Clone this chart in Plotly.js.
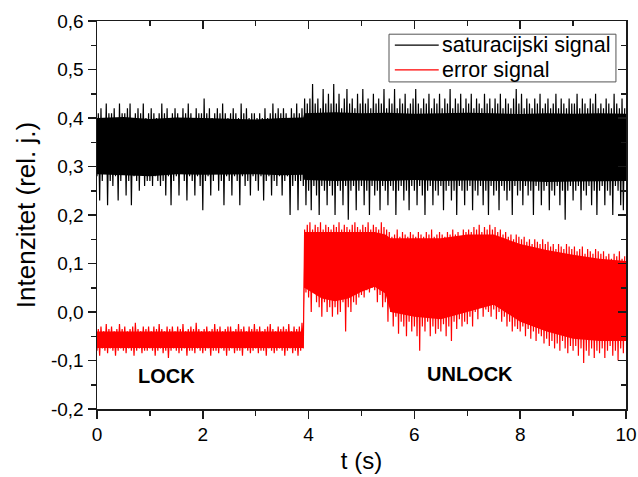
<!DOCTYPE html>
<html>
<head>
<meta charset="utf-8">
<script src="https://cdn.plot.ly/plotly-3.0.1.min.js"></script>
<style>html,body{margin:0;padding:0;background:#fff}#chart{width:638px;height:477px}</style>
</head>
<body>
<div id="chart"></div>
<script>
// Sampling grid of the recorded traces (seconds)
const sampleStart = 0;
const sampleStep = 0.05;

// Saturation signal: lower / upper excursions in each 0.05 s slot
const satLow = [
  0.28,0.23,0.27,0.29,0.22,0.27,0.26,0.28,0.23,0.27,
  0.29,0.24,0.27,0.22,0.28,0.27,0.25,0.29,0.26,0.27,
  0.27,0.26,0.28,0.27,0.26,0.27,0.24,0.28,0.22,0.27,
  0.28,0.24,0.29,0.27,0.23,0.28,0.27,0.24,0.28,0.26,
  0.21,0.27,0.28,0.24,0.27,0.29,0.25,0.27,0.22,0.28,
  0.27,0.24,0.28,0.27,0.22,0.28,0.26,0.27,0.24,0.28,
  0.27,0.25,0.28,0.23,0.27,0.28,0.24,0.27,0.26,0.28,
  0.24,0.27,0.28,0.20,0.26,0.27,0.21,0.27,0.26,0.22,
  0.25,0.21,0.26,0.24,0.20,0.26,0.25,0.22,0.26,0.24,
  0.20,0.26,0.25,0.22,0.26,0.19,0.25,0.26,0.21,0.25,
  0.26,0.22,0.25,0.20,0.26,0.24,0.25,0.21,0.26,0.25,
  0.22,0.26,0.25,0.20,0.25,0.26,0.23,0.25,0.21,0.26,
  0.25,0.22,0.26,0.24,0.20,0.25,0.26,0.22,0.25,0.24,
  0.26,0.21,0.25,0.26,0.23,0.25,0.20,0.26,0.25,0.22,
  0.25,0.26,0.21,0.25,0.24,0.26,0.22,0.25,0.20,0.26,
  0.24,0.25,0.21,0.26,0.25,0.23,0.25,0.20,0.26,0.24,
  0.25,0.22,0.26,0.24,0.25,0.20,0.26,0.25,0.22,0.25,
  0.26,0.21,0.25,0.24,0.26,0.22,0.25,0.19,0.25,0.26,
  0.23,0.25,0.26,0.21,0.25,0.24,0.26,0.22,0.25,0.20,
  0.25,0.26,0.22,0.25,0.24,0.20,0.26,0.25,0.22,0.21
];
const satHigh = [
  0.41,0.42,0.40,0.43,0.41,0.41,0.42,0.40,0.43,0.41,
  0.41,0.42,0.43,0.40,0.41,0.42,0.41,0.43,0.40,0.41,
  0.42,0.41,0.40,0.41,0.43,0.41,0.42,0.40,0.41,0.42,
  0.41,0.40,0.42,0.41,0.43,0.41,0.40,0.42,0.41,0.41,
  0.44,0.41,0.42,0.40,0.41,0.42,0.41,0.43,0.41,0.40,
  0.41,0.42,0.41,0.40,0.43,0.41,0.42,0.40,0.41,0.41,
  0.40,0.41,0.40,0.42,0.40,0.41,0.43,0.41,0.42,0.41,
  0.42,0.41,0.40,0.42,0.41,0.43,0.41,0.42,0.44,0.43,
  0.44,0.47,0.43,0.44,0.42,0.46,0.43,0.45,0.43,0.47,
  0.43,0.45,0.42,0.44,0.46,0.43,0.44,0.42,0.45,0.43,
  0.46,0.43,0.44,0.42,0.45,0.43,0.44,0.43,0.46,0.42,
  0.44,0.43,0.46,0.42,0.44,0.43,0.45,0.42,0.43,0.44,
  0.46,0.43,0.42,0.44,0.43,0.45,0.42,0.44,0.43,0.45,
  0.42,0.44,0.43,0.46,0.42,0.44,0.43,0.45,0.42,0.44,
  0.43,0.45,0.42,0.44,0.43,0.42,0.45,0.43,0.44,0.42,
  0.44,0.43,0.45,0.42,0.44,0.43,0.42,0.44,0.46,0.43,
  0.45,0.42,0.44,0.43,0.42,0.44,0.43,0.45,0.42,0.43,
  0.44,0.42,0.43,0.45,0.42,0.44,0.43,0.42,0.44,0.43,
  0.43,0.45,0.42,0.44,0.43,0.42,0.44,0.43,0.45,0.42,
  0.43,0.42,0.44,0.43,0.42,0.45,0.43,0.42,0.44,0.42
];

// Error signal: lower / upper excursions in each 0.05 s slot
const errLow = [
  -0.08,-0.09,-0.075,-0.08,-0.085,-0.075,-0.08,-0.09,-0.08,-0.075,
  -0.08,-0.085,-0.075,-0.08,-0.09,-0.08,-0.075,-0.085,-0.08,-0.08,
  -0.075,-0.08,-0.09,-0.08,-0.075,-0.085,-0.08,-0.095,-0.08,-0.075,
  -0.08,-0.085,-0.08,-0.075,-0.09,-0.08,-0.08,-0.085,-0.075,-0.08,
  -0.085,-0.08,-0.075,-0.09,-0.08,-0.08,-0.085,-0.075,-0.08,-0.09,
  -0.08,-0.075,-0.085,-0.08,-0.08,-0.09,-0.075,-0.08,-0.085,-0.08,
  -0.075,-0.085,-0.08,-0.08,-0.09,-0.075,-0.08,-0.085,-0.08,-0.075,
  -0.08,-0.09,-0.08,-0.075,-0.085,-0.08,-0.09,-0.08,-0.075,0.04,
  0.03,0.0,0.05,0.02,0.01,-0.01,0.02,0.0,0.01,-0.01,
  0.01,-0.005,0.0,0.02,-0.04,0.01,0.0,0.02,0.015,0.03,
  0.035,0.03,0.045,0.04,0.05,0.045,0.02,0.035,0.01,0.02,
  -0.02,0.0,-0.03,-0.01,-0.045,-0.02,-0.03,-0.05,-0.02,-0.04,
  -0.03,-0.05,-0.08,-0.03,-0.04,-0.02,-0.05,-0.03,-0.045,-0.035,
  -0.04,-0.025,-0.05,-0.03,-0.06,-0.02,-0.035,-0.015,-0.03,-0.02,
  -0.025,-0.01,-0.03,0.0,-0.015,0.01,-0.01,0.005,0.0,-0.01,
  0.005,-0.015,0.0,-0.02,-0.01,-0.03,-0.02,-0.04,-0.03,-0.035,
  -0.04,-0.03,-0.05,-0.035,-0.055,-0.04,-0.06,-0.045,-0.05,-0.065,
  -0.055,-0.07,-0.06,-0.075,-0.065,-0.08,-0.06,-0.075,-0.085,-0.07,
  -0.08,-0.07,-0.09,-0.075,-0.105,-0.08,-0.09,-0.075,-0.095,-0.08,
  -0.085,-0.075,-0.095,-0.08,-0.07,-0.09,-0.08,-0.1,-0.075,-0.085
];
const errHigh = [
  -0.035,-0.03,-0.04,-0.025,-0.035,-0.03,-0.04,-0.035,-0.025,-0.035,
  -0.03,-0.04,-0.035,-0.03,-0.022,-0.035,-0.04,-0.03,-0.035,-0.03,
  -0.04,-0.03,-0.035,-0.025,-0.035,-0.04,-0.03,-0.035,-0.03,-0.04,
  -0.03,-0.035,-0.025,-0.04,-0.035,-0.03,-0.035,-0.022,-0.035,-0.04,
  -0.035,-0.03,-0.04,-0.035,-0.025,-0.035,-0.03,-0.04,-0.035,-0.03,
  -0.03,-0.04,-0.035,-0.025,-0.035,-0.03,-0.04,-0.03,-0.035,-0.025,
  -0.035,-0.03,-0.04,-0.035,-0.03,-0.025,-0.035,-0.04,-0.03,-0.035,
  -0.03,-0.035,-0.025,-0.04,-0.03,-0.035,-0.03,-0.022,0.17,0.18,
  0.185,0.17,0.18,0.175,0.185,0.17,0.18,0.175,0.17,0.18,
  0.175,0.185,0.17,0.18,0.175,0.17,0.18,0.185,0.175,0.17,
  0.18,0.175,0.185,0.17,0.18,0.175,0.17,0.185,0.175,0.17,
  0.165,0.155,0.16,0.17,0.155,0.165,0.16,0.155,0.165,0.16,
  0.155,0.165,0.16,0.155,0.165,0.16,0.17,0.155,0.16,0.165,
  0.16,0.155,0.165,0.16,0.17,0.16,0.165,0.155,0.17,0.165,
  0.17,0.165,0.175,0.17,0.18,0.165,0.175,0.17,0.18,0.17,
  0.175,0.165,0.17,0.16,0.165,0.155,0.16,0.15,0.16,0.155,
  0.15,0.155,0.145,0.15,0.14,0.15,0.145,0.14,0.15,0.14,
  0.145,0.135,0.14,0.13,0.14,0.135,0.13,0.14,0.135,0.13,
  0.135,0.125,0.13,0.135,0.12,0.13,0.125,0.12,0.13,0.125,
  0.12,0.125,0.115,0.12,0.11,0.12,0.115,0.125,0.11,0.115
];

// Dense (solid-looking) core of each noisy band
const satCoreT      = [0, 0.5, 1, 1.5, 2, 2.5, 3, 3.5, 3.9, 3.92, 4.5, 5, 5.5, 6, 6.5, 7, 7.5, 8, 8.5, 9, 9.5, 10];
const satCoreTop    = [0.400, 0.402, 0.398, 0.401, 0.400, 0.399, 0.397, 0.400, 0.401, 0.410, 0.412, 0.410, 0.411, 0.409, 0.410, 0.411, 0.410, 0.408, 0.410, 0.409, 0.410, 0.409];
const satCoreBottom = [0.284, 0.282, 0.280, 0.284, 0.283, 0.283, 0.284, 0.282, 0.283, 0.272, 0.270, 0.271, 0.270, 0.272, 0.270, 0.271, 0.270, 0.270, 0.268, 0.269, 0.270, 0.270];

const errCoreT      = [0, 3.9, 3.92, 4.25, 4.5, 4.75, 5.0, 5.25, 5.45, 5.55, 6.0, 6.5, 7.0, 7.5, 8.0, 8.5, 9.0, 9.5, 10];
const errCoreTop    = [-0.04, -0.04, 0.165, 0.165, 0.165, 0.165, 0.165, 0.165, 0.16, 0.152, 0.152, 0.152, 0.16, 0.16, 0.14, 0.128, 0.118, 0.11, 0.105];
const errCoreBottom = [-0.074, -0.074, 0.05, 0.028, 0.022, 0.028, 0.042, 0.052, 0.038, 0.0, -0.01, -0.015, 0.0, 0.015, -0.02, -0.04, -0.055, -0.06, -0.06];

// Tick labels
const xTickVals = [0, 2, 4, 6, 8, 10];
const xTickText = ['0', '2', '4', '6', '8', '10'];
const yTickVals = [-0.2, -0.1, 0.0, 0.1, 0.2, 0.3, 0.4, 0.5, 0.6];
const yTickText = ['-0,2', '-0,1', '0,0', '0,1', '0,2', '0,3', '0,4', '0,5', '0,6'];

const seriesNames = ['saturacijski signal', 'error signal'];
const seriesColors = ['#000000', '#ff0000'];
const labelLock = 'LOCK';
const labelUnlock = 'UNLOCK';

// interleave lower/upper excursions in time order
function interleave(low, high) {
  const x = [], y = [];
  for (let i = 0; i < low.length; i++) {
    const t = sampleStart + i * sampleStep;
    x.push(t); y.push(low[i]);
    x.push(t + sampleStep / 2); y.push(high[i]);
  }
  return {x, y};
}
function band(t, top, bottom) {
  return {x: t.concat(t.slice().reverse()), y: top.concat(bottom.slice().reverse())};
}

const sat = interleave(satLow, satHigh);
const err = interleave(errLow, errHigh);
const satBand = band(satCoreT, satCoreTop, satCoreBottom);
const errBand = band(errCoreT, errCoreTop, errCoreBottom);

const FONT = 'Liberation Sans, Arial, sans-serif';
const AX = '#1a1a1a';
const LW = 1.2;

const traces = [
  {x: satBand.x, y: satBand.y, type: 'scatter', mode: 'lines', fill: 'toself',
   fillcolor: seriesColors[0], line: {width: 0, color: seriesColors[0]}, showlegend: false, hoverinfo: 'skip'},
  {x: sat.x, y: sat.y, name: seriesNames[0], type: 'scatter', mode: 'lines',
   line: {color: seriesColors[0], width: LW, simplify: false}},
  {x: errBand.x, y: errBand.y, type: 'scatter', mode: 'lines', fill: 'toself',
   fillcolor: seriesColors[1], line: {width: 0, color: seriesColors[1]}, showlegend: false, hoverinfo: 'skip'},
  {x: err.x, y: err.y, name: seriesNames[1], type: 'scatter', mode: 'lines',
   line: {color: seriesColors[1], width: LW, simplify: false}},
  // invisible helper so the mirrored tick axes are drawn
  {x: [0], y: [0], xaxis: 'x2', yaxis: 'y2', mode: 'markers', marker: {opacity: 0},
   showlegend: false, hoverinfo: 'skip'}
];

// legend drawn as a box with sample lines and labels (paper coordinates)
const legBox = {x0: 0.552, x1: 0.981, y0: 0.843, y1: 0.966};
const legRows = [0.938, 0.874];
const legLineX = [0.563, 0.646];
const legTextX = 0.648;

const shapes = [
  {type: 'rect', xref: 'paper', yref: 'paper', x0: legBox.x0, x1: legBox.x1, y0: legBox.y0, y1: legBox.y1,
   line: {color: '#555', width: 1}, fillcolor: '#ffffff', layer: 'above'}
];
const annotations = [
  {x: 1.31, y: -0.131, xref: 'x', yref: 'y', text: '<b>' + labelLock + '</b>', showarrow: false,
   font: {family: FONT, size: 20, color: '#000'}},
  {x: 7.06, y: -0.128, xref: 'x', yref: 'y', text: '<b>' + labelUnlock + '</b>', showarrow: false,
   font: {family: FONT, size: 20, color: '#000'}}
];
seriesNames.forEach((nm, k) => {
  shapes.push({type: 'line', xref: 'paper', yref: 'paper', x0: legLineX[0], x1: legLineX[1],
    y0: legRows[k], y1: legRows[k], line: {color: seriesColors[k], width: 1.3}, layer: 'above'});
  annotations.push({xref: 'paper', yref: 'paper', x: legTextX, y: legRows[k], xanchor: 'left', yanchor: 'middle',
    text: nm, showarrow: false, font: {family: FONT, size: 21.5, color: '#000'}});
});

const layout = {
  width: 638, height: 477,
  margin: {l: 97, r: 12, t: 21, b: 68},
  paper_bgcolor: '#ffffff', plot_bgcolor: '#ffffff',
  separators: ',.',
  font: {family: FONT, color: '#000', size: 18},
  showlegend: false,
  xaxis: {
    range: [0, 10], showgrid: false, zeroline: false,
    showline: true, linecolor: AX, linewidth: 1.5, mirror: true,
    tickmode: 'array', tickvals: xTickVals, ticktext: xTickText,
    ticks: 'outside', ticklen: 8, tickwidth: 1.5, tickcolor: AX,
    minor: {ticks: 'outside', ticklen: 5, tickwidth: 1.5, tickcolor: AX, tick0: 1, dtick: 2},
    tickfont: {family: FONT, size: 19, color: '#000'},
    title: {text: 't (s)', font: {family: FONT, size: 24, color: '#000'}, standoff: 8}
  },
  yaxis: {
    range: [-0.2, 0.6], showgrid: false, zeroline: false,
    showline: true, linecolor: AX, linewidth: 1.5, mirror: true,
    tickmode: 'array', tickvals: yTickVals, ticktext: yTickText,
    ticks: 'outside', ticklen: 8, tickwidth: 1.5, tickcolor: AX,
    minor: {ticks: 'outside', ticklen: 5, tickwidth: 1.5, tickcolor: AX, tick0: -0.15, dtick: 0.1},
    tickfont: {family: FONT, size: 19, color: '#000'},
    title: {text: 'Intenzitet (rel. j.)', font: {family: FONT, size: 26, color: '#000'}, standoff: 8}
  },
  xaxis2: {
    range: [0, 10], overlaying: 'x', side: 'top', anchor: 'y',
    showgrid: false, zeroline: false, showline: false, showticklabels: false,
    tickmode: 'array', tickvals: xTickVals,
    ticks: 'inside', ticklen: 8, tickwidth: 1.5, tickcolor: AX,
    minor: {ticks: 'inside', ticklen: 5, tickwidth: 1.5, tickcolor: AX, tick0: 1, dtick: 2}
  },
  yaxis2: {
    range: [-0.2, 0.6], overlaying: 'y', side: 'right', anchor: 'x',
    showgrid: false, zeroline: false, showline: false, showticklabels: false,
    tickmode: 'array', tickvals: yTickVals,
    ticks: 'inside', ticklen: 8, tickwidth: 1.5, tickcolor: AX,
    minor: {ticks: 'inside', ticklen: 5, tickwidth: 1.5, tickcolor: AX, tick0: -0.15, dtick: 0.1}
  },
  shapes: shapes,
  annotations: annotations
};

Plotly.newPlot('chart', traces, layout, {displayModeBar: false, staticPlot: true});
</script>
</body>
</html>
